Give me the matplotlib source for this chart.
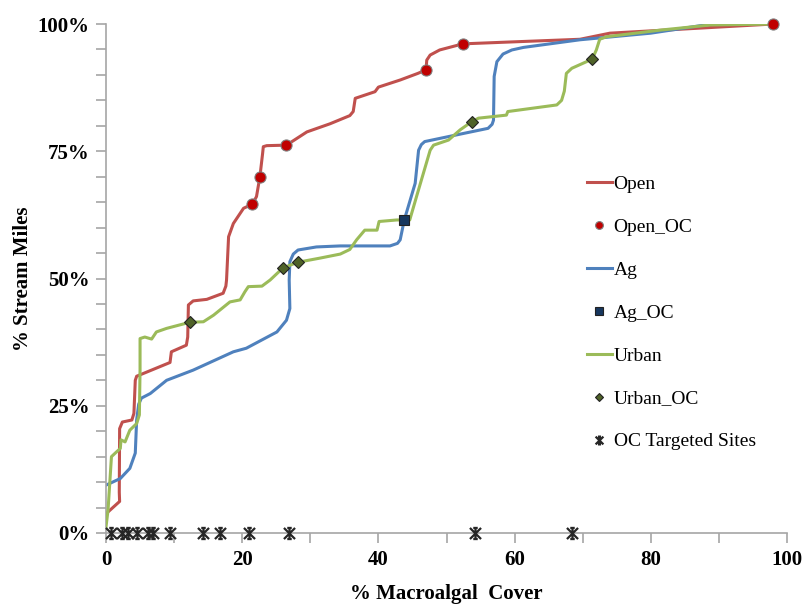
import matplotlib.pyplot as plt
from matplotlib.path import Path
from matplotlib.ticker import MultipleLocator, FuncFormatter

# cumulative % stream miles vs % macroalgal cover, by land use
open_x = [0.1, 2.0, 1.95, 2.0, 2.4, 3.8, 4.1, 4.3, 4.5, 9.4, 9.6, 11.8, 12.0, 12.1, 12.8,
          14.8, 17.2, 17.6, 17.7, 18.0, 18.7, 20.2, 21.5, 22.1, 22.6, 23.0, 23.1, 23.6,
          26.5, 29.5, 32.9, 35.8, 36.3, 36.6, 39.5, 40.0, 43.2, 45.8, 47.0, 47.1, 47.6,
          49.0, 52.4, 60.0, 69.6, 74.0, 98.0]
open_y = [3.9, 6.2, 8.0, 20.5, 21.8, 22.2, 23.5, 30.0, 30.8, 33.5, 35.6, 36.9, 38.5,
          44.8, 45.6, 45.9, 47.1, 48.5, 49.7, 58.2, 60.8, 63.8, 64.6, 66.1, 70.0, 74.6,
          75.9, 76.1, 76.2, 78.8, 80.4, 82.0, 82.8, 85.4, 86.7, 87.6, 89.0, 90.3, 91.0,
          92.9, 93.9, 94.9, 96.1, 96.5, 97.0, 98.2, 100.0]

ag_x = [0.0, 2.1, 3.5, 4.3, 4.5, 4.8, 5.2, 6.5, 8.9, 12.8, 18.7, 20.6, 25.1, 26.5, 27.0,
        26.9, 27.0, 27.5, 28.2, 30.9, 34.4, 41.7, 42.8, 43.2, 43.8, 45.4, 45.9, 46.3,
        46.8, 52.5, 56.1, 56.7, 56.9, 57.0, 57.4, 58.3, 59.6, 61.3, 69.6, 80.0, 88.9]
ag_y = [9.4, 10.7, 12.7, 15.7, 22.2, 25.3, 26.5, 27.4, 30.0, 32.0, 35.6, 36.3, 39.5, 41.8,
        44.1, 49.7, 53.3, 54.8, 55.6, 56.2, 56.4, 56.4, 56.9, 57.6, 61.5, 68.7, 75.2,
        76.3, 76.9, 78.5, 79.5, 80.3, 81.1, 89.7, 92.6, 94.1, 94.9, 95.4, 96.9, 98.2,
        100.0]

urban_x = [0.0, 0.3, 0.8, 1.6, 2.1, 2.2, 2.8, 3.5, 4.5, 4.9, 5.0, 5.0, 5.7, 6.7, 7.4, 8.9,
           12.3, 14.3, 15.8, 18.2, 19.7, 20.4, 20.9, 22.9, 24.1, 26.0, 28.2, 31.4, 34.4,
           35.8, 36.8, 38.0, 39.8, 40.1, 42.7, 44.6, 45.6, 47.6, 48.1, 50.3, 52.0, 53.7,
           54.7, 58.8, 59.0, 66.2, 66.9, 67.3, 67.6, 68.4, 71.4, 72.0, 72.5, 73.5, 81.4,
           88.7, 98.0]
urban_y = [1.2, 4.5, 15.0, 16.0, 16.6, 18.3, 17.9, 20.2, 21.5, 23.2, 32.0, 38.2, 38.5, 38.1,
           39.5, 40.2, 41.4, 41.5, 42.8, 45.4, 45.8, 47.4, 48.4, 48.5, 49.7, 52.1, 53.2,
           54.0, 54.8, 55.7, 57.6, 59.5, 59.5, 61.2, 61.5, 61.5, 66.1, 75.2, 76.2, 77.2,
           79.2, 80.8, 81.5, 82.1, 82.8, 84.1, 85.0, 86.8, 90.3, 91.3, 93.1, 94.9, 97.0,
           97.5, 98.8, 99.8, 100.0]

open_oc_x = [21.5, 22.6, 26.5, 47.0, 52.4, 98.0]
open_oc_y = [64.6, 70.0, 76.2, 91.0, 96.1, 100.0]
ag_oc_x = [43.8]
ag_oc_y = [61.5]
urban_oc_x = [12.3, 26.0, 28.2, 53.7, 71.4]
urban_oc_y = [41.4, 52.1, 53.2, 80.8, 93.1]

oc_sites_x = [0.8, 2.3, 3.2, 4.5, 6.2, 6.9, 9.4, 14.2, 16.7, 21.0, 26.8, 54.2, 68.4]
oc_sites_y = [0] * len(oc_sites_x)

# X with a vertical stroke, like the spreadsheet "star" marker
star = Path([(-1, -1), (1, 1), (-1, 1), (1, -1), (0, -1), (0, 1),
             (-0.4, 1), (0.4, 1), (-0.4, -1), (0.4, -1)],
            [Path.MOVETO, Path.LINETO] * 5)

plt.rcParams['font.family'] = ['Liberation Serif', 'DejaVu Serif']

fig = plt.figure(figsize=(8.05, 6.05), dpi=100)
ax = fig.add_axes([106 / 805, 72 / 605, 681 / 805, 509 / 605])

ax.plot(open_x, open_y, color='#C0504D', lw=2.2, label='Open', zorder=2)
ax.plot(open_oc_x, open_oc_y, ls='none', marker='o', ms=8, mfc='#C00000',
        mec='#7F7F7F', mew=0.8, label='Open_OC', zorder=4, clip_on=False)
ax.plot(ag_x, ag_y, color='#4F81BD', lw=2.2, label='Ag', zorder=2)
ax.plot(ag_oc_x, ag_oc_y, ls='none', marker='s', ms=7.5, mfc='#17375E',
        mec='#222222', mew=0.8, label='Ag_OC', zorder=4)
ax.plot(urban_x, urban_y, color='#9BBB59', lw=2.2, label='Urban', zorder=3)
ax.plot(urban_oc_x, urban_oc_y, ls='none', marker='D', ms=6.5, mfc='#4F6228',
        mec='#222222', mew=0.8, label='Urban_OC', zorder=4)
ax.plot(oc_sites_x, oc_sites_y, ls='none', marker=star, ms=8, mec='#262626',
        mew=1.6, label='OC Targeted Sites', zorder=5, clip_on=False)

ax.set_xlim(0, 100)
ax.set_ylim(0, 100)
ax.xaxis.set_major_locator(MultipleLocator(20))
ax.xaxis.set_minor_locator(MultipleLocator(10))
ax.yaxis.set_major_locator(MultipleLocator(25))
ax.yaxis.set_minor_locator(MultipleLocator(5))
ax.yaxis.set_major_formatter(FuncFormatter(lambda v, p: f'{v:.0f}%'))

for side in ['top', 'right']:
    ax.spines[side].set_visible(False)
for side in ['left', 'bottom']:
    ax.spines[side].set_color('#A6A6A6')
    ax.spines[side].set_linewidth(1.2)
ax.tick_params(which='both', direction='out', color='#A6A6A6', width=1.2)
ax.tick_params(which='major', length=7, labelsize=15, pad=5)
ax.tick_params(which='minor', length=7)
for lab in ax.get_xticklabels() + ax.get_yticklabels():
    lab.set_fontweight('bold')

ax.set_xlabel('% Macroalgal  Cover', fontsize=15, fontweight='bold', labelpad=10)
ax.set_ylabel('% Stream Miles', fontsize=15, fontweight='bold', labelpad=3)

leg = ax.legend(loc='upper left', bbox_to_anchor=(0.681, 0.737), frameon=False,
                fontsize=14, handlelength=1.25, handletextpad=0.1,
                labelspacing=1.3, markerscale=0.7)

fig.savefig('out.png', dpi=100)
